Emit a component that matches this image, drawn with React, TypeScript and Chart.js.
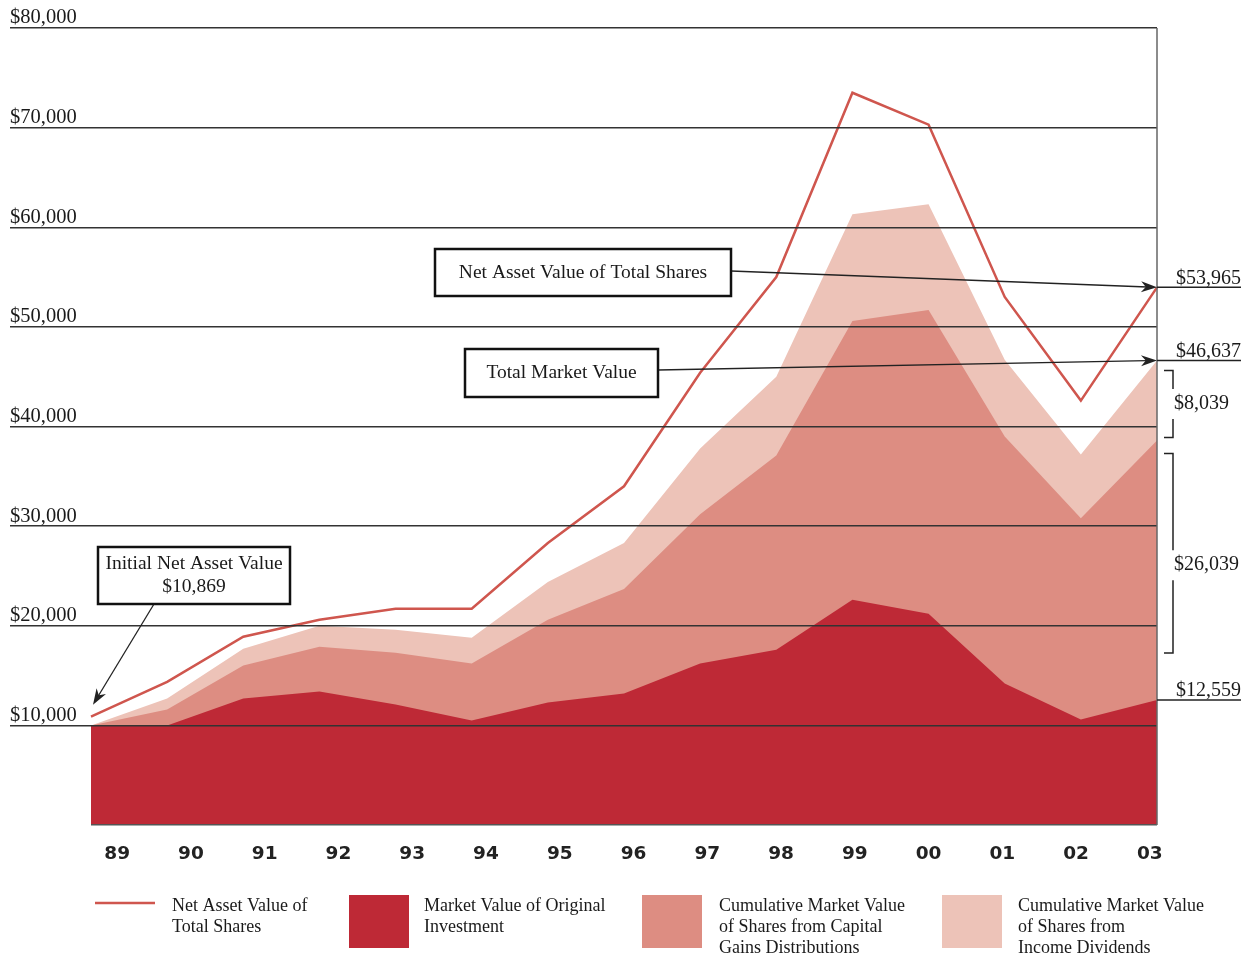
import React, { useEffect, useRef } from 'react';
import { Chart, registerables } from 'chart.js';

Chart.register(...registerables);

const YEARS = ['89', '90', '91', '92', '93', '94', '95', '96', '97', '98', '99', '00', '01', '02', '03'];
const NAV_TOTAL_SHARES = [10869, 14360, 18900, 20600, 21700, 21700, 28300, 34000, 45400, 55000, 73500, 70300, 53000, 42600, 53965];
const TOTAL_MARKET_VALUE = [10000, 12700, 17700, 20000, 19600, 18800, 24400, 28300, 37800, 45000, 61300, 62300, 46700, 37200, 46637];
const ORIGINAL_PLUS_CAP_GAINS = [10000, 11600, 16000, 17900, 17300, 16200, 20600, 23700, 31200, 37100, 50600, 51700, 39000, 30800, 38598];
const ORIGINAL_INVESTMENT = [10000, 10000, 12700, 13400, 12100, 10500, 12300, 13200, 16200, 17600, 22600, 21200, 14200, 10600, 12559];
const Y_TICKS = [0, 10000, 20000, 30000, 40000, 50000, 60000, 70000, 80000];

const C_LINE = '#CF564E';
const C_DARK = '#BE2936';
const C_MID = '#DD8D82';
const C_LIGHT = '#EDC3B8';
const SERIF = '"Liberation Serif", "Times New Roman", serif';

const fmt = (v: number) => '$' + v.toLocaleString('en-US');

function arrow(ctx: CanvasRenderingContext2D, x1: number, y1: number, x2: number, y2: number) {
  const a = Math.atan2(y2 - y1, x2 - x1);
  const len = 16, hw = 5.5;
  const c = Math.cos(a), s = Math.sin(a);
  const bx = x2 - len * c, by = y2 - len * s;
  ctx.beginPath();
  ctx.moveTo(x1, y1);
  ctx.lineTo(x2 - len * 0.6 * c, y2 - len * 0.6 * s);
  ctx.stroke();
  ctx.beginPath();
  ctx.moveTo(x2, y2);
  ctx.lineTo(bx + hw * s, by - hw * c);
  ctx.lineTo(x2 - len * 0.7 * c, y2 - len * 0.7 * s);
  ctx.lineTo(bx - hw * s, by + hw * c);
  ctx.closePath();
  ctx.fill();
}

function box(ctx: CanvasRenderingContext2D, x: number, y: number, w: number, h: number, lines: string[]) {
  ctx.fillStyle = '#fff';
  ctx.fillRect(x, y, w, h);
  ctx.strokeStyle = '#111';
  ctx.lineWidth = 2.5;
  ctx.strokeRect(x, y, w, h);
  ctx.fillStyle = '#1a1a1a';
  ctx.font = `19.5px ${SERIF}`;
  ctx.textAlign = 'center';
  ctx.textBaseline = 'middle';
  const lh = 23;
  const y0 = y + h / 2 - ((lines.length - 1) * lh) / 2;
  lines.forEach((t, i) => ctx.fillText(t, x + w / 2, y0 + i * lh));
}

function bracket(ctx: CanvasRenderingContext2D, top: number, bottom: number, labelY: number, label: string) {
  const xv = 1173, xt = 1164, gap = 15;
  ctx.strokeStyle = '#222';
  ctx.lineWidth = 1.5;
  ctx.beginPath();
  ctx.moveTo(xt, top); ctx.lineTo(xv, top); ctx.lineTo(xv, labelY - gap);
  ctx.moveTo(xv, labelY + gap); ctx.lineTo(xv, bottom); ctx.lineTo(xt, bottom);
  ctx.stroke();
  ctx.fillStyle = '#1a1a1a';
  ctx.font = `20px ${SERIF}`;
  ctx.textAlign = 'left';
  ctx.textBaseline = 'middle';
  ctx.fillText(label, xv + 1, labelY);
}

const annotPlugin = {
  id: 'annot',
  afterDraw(chart: any) {
    const { ctx, chartArea: ca, scales } = chart;
    const xs = scales.x, ys = scales.y;
    const last = YEARS.length - 1;
    const xr = ca.right;
    ctx.save();

    // right border
    ctx.strokeStyle = '#666';
    ctx.lineWidth = 1.5;
    ctx.beginPath(); ctx.moveTo(xr, ca.top); ctx.lineTo(xr, ca.bottom); ctx.stroke();

    // right value lines + labels
    const navY = ys.getPixelForValue(NAV_TOTAL_SHARES[last]);
    const totY = ys.getPixelForValue(TOTAL_MARKET_VALUE[last]);
    const capY = ys.getPixelForValue(ORIGINAL_PLUS_CAP_GAINS[last]);
    const orgY = ys.getPixelForValue(ORIGINAL_INVESTMENT[last]);
    ctx.strokeStyle = '#222';
    ctx.lineWidth = 1.5;
    ctx.font = `20px ${SERIF}`;
    ctx.fillStyle = '#1a1a1a';
    ctx.textAlign = 'right';
    ctx.textBaseline = 'alphabetic';
    [
      [navY, NAV_TOTAL_SHARES[last]],
      [totY, TOTAL_MARKET_VALUE[last]],
      [orgY, ORIGINAL_INVESTMENT[last]],
    ].forEach(([py, v]) => {
      ctx.beginPath(); ctx.moveTo(xr, py); ctx.lineTo(1241, py); ctx.stroke();
      ctx.fillText(fmt(v), 1241, py - 3.5);
    });

    // brackets
    const divPart = TOTAL_MARKET_VALUE[last] - ORIGINAL_PLUS_CAP_GAINS[last];
    const capPart = ORIGINAL_PLUS_CAP_GAINS[last] - ORIGINAL_INVESTMENT[last];
    const b1t = totY + 10, b1b = capY - 3;
    bracket(ctx, b1t, b1b, (b1t + b1b) / 2, fmt(divPart));
    const b2t = capY + 13, b2b = orgY - 47;
    bracket(ctx, b2t, b2b, (b2t + b2b) / 2 + 12, fmt(capPart));

    // callout arrows
    ctx.strokeStyle = '#222';
    ctx.fillStyle = '#222';
    ctx.lineWidth = 1.3;
    arrow(ctx, 731, 271, xr, navY);
    arrow(ctx, 658, 370, xr, totY);
    const x0 = xs.getPixelForValue(0);
    const nav0Y = ys.getPixelForValue(NAV_TOTAL_SHARES[0]);
    arrow(ctx, 154, 604, x0 + 2, nav0Y - 12);

    // callout boxes
    box(ctx, 435, 249, 296, 47, ['Net Asset Value of Total Shares']);
    box(ctx, 465, 349, 193, 48, ['Total Market Value']);
    box(ctx, 98, 547, 192, 57, ['Initial Net Asset Value', fmt(NAV_TOTAL_SHARES[0])]);

    // legend
    ctx.font = `18px ${SERIF}`;
    ctx.textAlign = 'left';
    ctx.textBaseline = 'middle';
    ctx.strokeStyle = C_LINE;
    ctx.lineWidth = 2.5;
    ctx.beginPath(); ctx.moveTo(95, 903); ctx.lineTo(155, 903); ctx.stroke();
    const legend: [number, string | null, number, string[]][] = [
      [95, null, 172, ['Net Asset Value of', 'Total Shares']],
      [349, C_DARK, 424, ['Market Value of Original', 'Investment']],
      [642, C_MID, 719, ['Cumulative Market Value', 'of Shares from Capital', 'Gains Distributions']],
      [942, C_LIGHT, 1018, ['Cumulative Market Value', 'of Shares from', 'Income Dividends']],
    ];
    legend.forEach(([sx, col, tx, lines]) => {
      if (col) {
        ctx.fillStyle = col;
        ctx.fillRect(sx, 895, 60, 53);
      }
      ctx.fillStyle = '#1a1a1a';
      lines.forEach((t, i) => ctx.fillText(t, tx, 906.5 + i * 20.7));
    });

    ctx.restore();
  },
};

export default function App() {
  const ref = useRef<HTMLCanvasElement | null>(null);
  useEffect(() => {
    if (!ref.current) return;
    const chart = new Chart(ref.current, {
      type: 'line',
      data: {
        labels: YEARS,
        datasets: [
          {
            label: 'Net Asset Value of Total Shares',
            data: NAV_TOTAL_SHARES,
            borderColor: C_LINE,
            borderWidth: 2.5,
            pointRadius: 0,
            fill: false,
            tension: 0,
          },
          {
            label: 'Market Value of Original Investment',
            data: ORIGINAL_INVESTMENT,
            borderWidth: 0,
            borderColor: C_DARK,
            backgroundColor: C_DARK,
            pointRadius: 0,
            fill: 'origin',
          },
          {
            label: 'Cumulative Market Value of Shares from Capital Gains Distributions',
            data: ORIGINAL_PLUS_CAP_GAINS,
            borderWidth: 0,
            borderColor: C_MID,
            backgroundColor: C_MID,
            pointRadius: 0,
            fill: 'origin',
          },
          {
            label: 'Cumulative Market Value of Shares from Income Dividends',
            data: TOTAL_MARKET_VALUE,
            borderWidth: 0,
            borderColor: C_LIGHT,
            backgroundColor: C_LIGHT,
            pointRadius: 0,
            fill: 'origin',
          },
        ],
      },
      options: {
        responsive: false,
        animation: false,
        devicePixelRatio: 1,
        layout: { padding: { left: 10, right: 95, top: 28, bottom: 0 } },
        plugins: {
          legend: { display: false },
          title: { display: false },
          tooltip: { enabled: false },
        },
        scales: {
          x: {
            type: 'category',
            display: false,
            offset: false,
          },
          x2: {
            type: 'linear',
            position: 'bottom',
            min: -0.355,
            max: 14.097,
            grid: { display: false },
            border: { display: false },
            afterBuildTicks: (axis: any) => {
              axis.ticks = YEARS.map((_, i) => ({ value: i }));
            },
            afterFit: (axis: any) => {
              axis.height = 130;
            },
            ticks: {
              autoSkip: false,
              maxRotation: 0,
              padding: 10,
              color: '#222',
              font: { family: '"DejaVu Sans", sans-serif', size: 18.5, weight: 'bold' },
              callback: (v: any) => YEARS[Math.round(Number(v))] ?? '',
            },
          },
          y: {
            min: 0,
            max: 80000,
            z: 1,
            afterBuildTicks: (axis: any) => {
              axis.ticks = Y_TICKS.map((v) => ({ value: v }));
            },
            afterFit: (axis: any) => {
              axis.width = 81;
            },
            border: { display: false },
            grid: {
              z: 1,
              color: (c: any) => (c.tick && c.tick.value === 0 ? '#555' : '#333'),
              tickColor: (c: any) => (c.tick && c.tick.value === 0 ? 'rgba(0,0,0,0)' : '#333'),
              lineWidth: 1.5,
              drawTicks: true,
              tickLength: 81,
            },
            ticks: {
              crossAlign: 'far',
              labelOffset: -10,
              padding: 0,
              color: '#1a1a1a',
              font: { family: SERIF, size: 20.5 },
              callback: (v: any) => (Number(v) === 0 ? '' : fmt(Number(v))),
            },
          },
        },
      },
      plugins: [annotPlugin],
    } as any);
    return () => chart.destroy();
  }, []);
  return (
    <div style={{ position: 'fixed', left: 0, top: 0, width: 1252, height: 955, background: '#fff' }}>
      <canvas ref={ref} width={1252} height={955} style={{ display: 'block' }} />
    </div>
  );
}
